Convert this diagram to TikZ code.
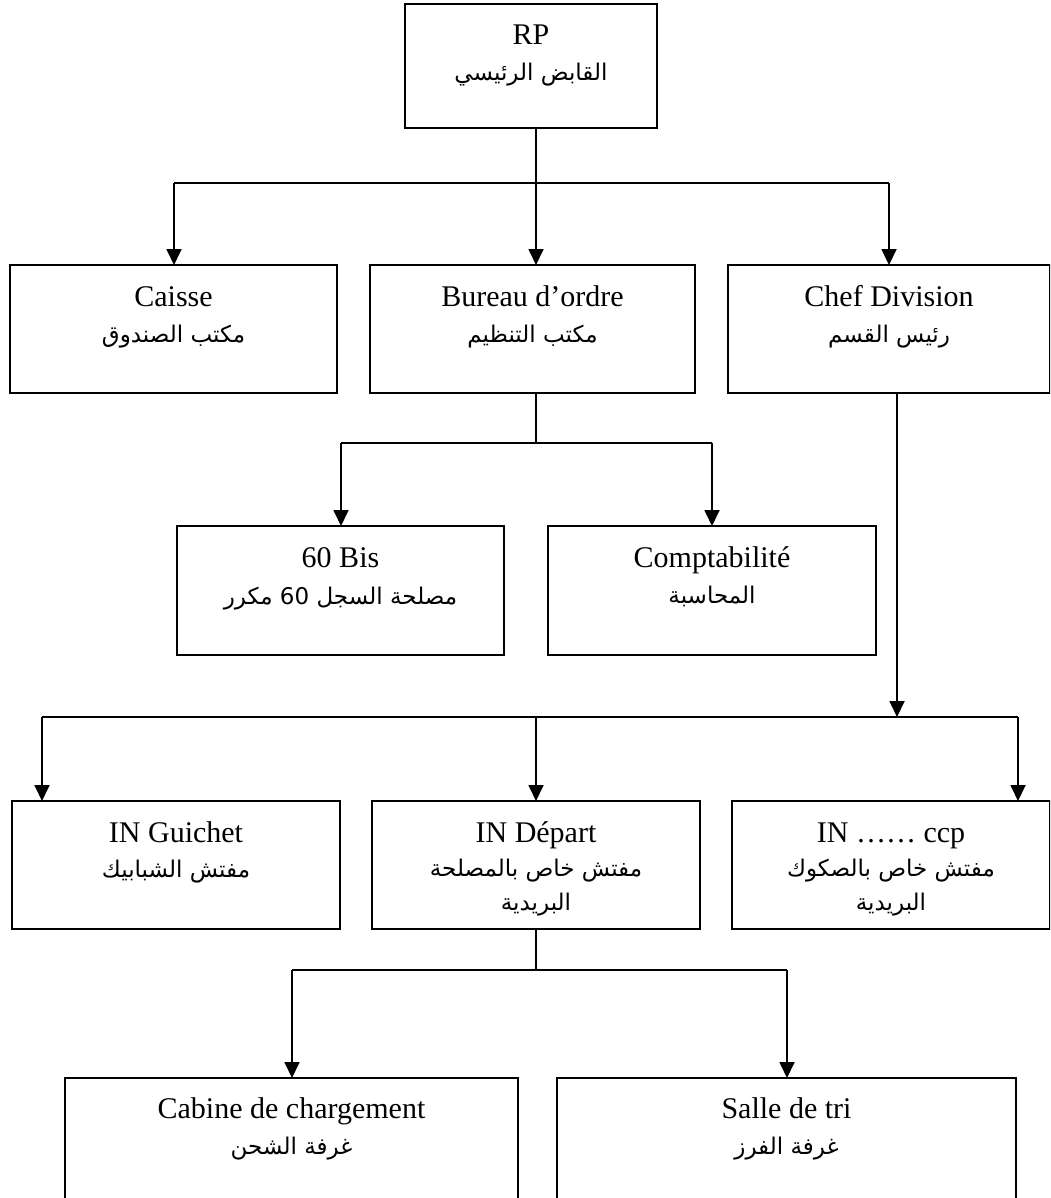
\documentclass[tikz,border=0pt]{standalone}
\usepackage{fontspec}
\setmainfont{Liberation Serif}
\newfontfamily\arabicfont[Script=Arabic]{DejaVu Sans}
\TeXXeTstate=1
\usetikzlibrary{arrows.meta,calc}
\begin{document}
\begin{tikzpicture}[x=1pt,y=-1pt,
 box/.style={draw, line width=1.8pt, rectangle, inner sep=0pt, outer sep=0pt},
 con/.style={line width=1.8pt},
 arr/.style={con, -{Triangle[width=15pt,length=16pt]}},
 lat/.style={font=\fontsize{30}{32}\selectfont, anchor=base, inner sep=0pt},
 ar/.style={font=\fontsize{23}{26}\selectfont\arabicfont, anchor=base, inner sep=0pt}]
\clip (0,0) rectangle (1050,1198);
\fill[white] (0,0) rectangle (1050,1198);
% boxes
\node[box, minimum width=252pt, minimum height=124pt] (rp) at (531,66) {};
\node[box, minimum width=327pt, minimum height=128pt] (caisse) at (173.5,329) {};
\node[box, minimum width=325pt, minimum height=128pt] (bureau) at (532.5,329) {};
\node[box, minimum width=322pt, minimum height=128pt] (chef) at (889,329) {};
\node[box, minimum width=327pt, minimum height=129pt] (bis) at (340.5,590.5) {};
\node[box, minimum width=328pt, minimum height=129pt] (compta) at (712,590.5) {};
\node[box, minimum width=328pt, minimum height=128pt] (guichet) at (176,865) {};
\node[box, minimum width=328pt, minimum height=128pt] (depart) at (536,865) {};
\node[box, minimum width=318pt, minimum height=128pt] (ccp) at (891,865) {};
\node[box, minimum width=453pt, minimum height=200pt] (cabine) at (291.5,1178) {};
\node[box, minimum width=459pt, minimum height=200pt] (salle) at (786.5,1178) {};
% texts
\node[lat] (rpL) at (531,45) {RP};
\node[ar] (rpA) at (531,81) {\beginR القابض الرئيسي\endR};
\node[lat] (caisseL) at (173.5,306) {Caisse};
\node[ar] (caisseA) at (173.5,342) {\beginR مكتب الصندوق\endR};
\node[lat] (bureauL) at (532.5,306) {Bureau d’ordre};
\node[ar] (bureauA) at (532.5,342) {\beginR مكتب التنظيم\endR};
\node[lat] (chefL) at (889,306) {Chef Division};
\node[ar] (chefA) at (889,342) {\beginR رئيس القسم\endR};
\node[lat] (bisL) at (340.5,567) {60 Bis};
\node[ar] (bisA) at (340.5,604) {\beginR مصلحة السجل \beginL 60\endL{} مكرر\endR};
\node[lat] (comptaL) at (712,567) {Comptabilité};
\node[ar] (comptaA) at (712,603) {\beginR المحاسبة\endR};
\node[lat] (guichetL) at (176,842) {IN Guichet};
\node[ar] (guichetA) at (176,877) {\beginR مفتش الشبابيك\endR};
\node[lat] (departL) at (536,842) {IN Départ};
\node[ar] (departA) at (536,876) {\beginR مفتش خاص بالمصلحة\endR};
\node[ar] (departB) at (536,910) {\beginR البريدية\endR};
\node[lat] (ccpL) at (891,842) {IN …… ccp};
\node[ar] (ccpA) at (891,876) {\beginR مفتش خاص بالصكوك\endR};
\node[ar] (ccpB) at (891,910) {\beginR البريدية\endR};
\node[lat] (cabineL) at (291.5,1118) {Cabine de chargement};
\node[ar] (cabineA) at (291.5,1154) {\beginR غرفة الشحن\endR};
\node[lat] (salleL) at (786.5,1118) {Salle de tri};
\node[ar] (salleA) at (786.5,1154) {\beginR غرفة الفرز\endR};
% junctions
\coordinate (j1) at (536,183);
\coordinate (j1l) at (174,183);
\coordinate (j1r) at (889,183);
\coordinate (j2) at (536,443);
\coordinate (j2l) at (341,443);
\coordinate (j2r) at (712,443);
\coordinate (j3) at (897,717);
\coordinate (j3l) at (42,717);
\coordinate (j3m) at (536,717);
\coordinate (j3r) at (1018,717);
\coordinate (j4) at (536,970);
\coordinate (j4l) at (292,970);
\coordinate (j4r) at (787,970);
% connectors
\draw[con] (rp.south -| j1) -- (j1);
\draw[con] (j1l) -- (j1r);
\draw[arr] (j1l) -- (caisse.north -| j1l);
\draw[arr] (j1) -- (bureau.north -| j1);
\draw[arr] (j1r) -- (chef.north -| j1r);
\draw[con] (bureau.south -| j2) -- (j2);
\draw[con] (j2l) -- (j2r);
\draw[arr] (j2l) -- (bis.north -| j2l);
\draw[arr] (j2r) -- (compta.north -| j2r);
\draw[arr] (chef.south -| j3) -- (j3);
\draw[con] (j3l) -- (j3r);
\draw[arr] (j3l) -- (guichet.north -| j3l);
\draw[arr] (j3m) -- (depart.north -| j3m);
\draw[arr] (j3r) -- (ccp.north -| j3r);
\draw[con] (depart.south -| j4) -- (j4);
\draw[con] (j4l) -- (j4r);
\draw[arr] (j4l) -- (cabine.north -| j4l);
\draw[arr] (j4r) -- (salle.north -| j4r);
\end{tikzpicture}
\end{document}
